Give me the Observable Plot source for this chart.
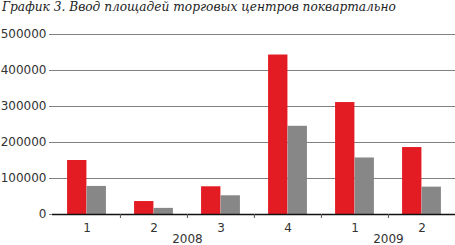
<!DOCTYPE html>
<html><head><meta charset="utf-8">
<script src="https://cdn.jsdelivr.net/npm/d3@7"></script>
<script src="https://cdn.jsdelivr.net/npm/@observablehq/plot@0.6"></script>
<style>
body{margin:0;background:#fff;}
#title{font-family:"DejaVu Serif";font-style:italic;font-size:12.2px;line-height:15px;height:22px;color:#222;padding-left:2px;white-space:nowrap;}
</style></head>
<body>
<div id="title">График 3. Ввод площадей торговых центров поквартально</div>
<div id="chart"></div>
<script>
const categories = ["2008-1","2008-2","2008-3","2008-4","2009-1","2009-2"];
const quarterLabels = ["1","2","3","4","1","2"];
const seriesRed = [150000, 36000, 77000, 443000, 311000, 186000];
const seriesGray = [78000, 17000, 52000, 245000, 157000, 76000];
const yTicks = [0,100000,200000,300000,400000,500000];
const years = [{label:"2008", at:"2008-3"}, {label:"2009", at:"2009-2"}];

const red = categories.map((c,i)=>({c, v:seriesRed[i]}));
const gray = categories.map((c,i)=>({c, v:seriesGray[i]}));
const labelOf = Object.fromEntries(categories.map((c,i)=>[c, quarterLabels[i]]));

const W = 455, H = 223, mL = 52;
const band = (W - mL) / categories.length;
const barW = 19.5, gap = (band - 2*barW)/2;

const chart = Plot.plot({
  width: W, height: H,
  marginLeft: mL, marginRight: 0, marginTop: 12, marginBottom: 31,
  style: {fontFamily: "DejaVu Sans", fontSize: "12px", color: "#333", background: "#fff"},
  x: {domain: categories, type: "band", paddingInner: 0, paddingOuter: 0, axis: null, label: null},
  y: {domain: [0, 500000], axis: null, label: null},
  marks: [
    Plot.gridY(yTicks, {stroke: "#808080", strokeOpacity: 1, strokeWidth: 1, insetLeft: -3}),
    Plot.axisY(yTicks, {tickSize: 0, tickPadding: 6, tickFormat: d => String(d), fontSize: 12, fill: "#333", label: null}),
    Plot.barY(red, {x: "c", y: "v", fill: "#e31b23", insetLeft: gap, insetRight: gap + barW}),
    Plot.barY(gray, {x: "c", y: "v", fill: "#878787", insetLeft: gap + barW, insetRight: gap}),
    Plot.ruleY([0], {stroke: "#111", strokeWidth: 1.5}),
    Plot.ruleX(categories.slice(1), {x: d => d, dx: -band/2, y1: 0, y2: 0, insetBottom: -4, stroke: "#555"}),
    Plot.axisX({tickSize: 0, tickPadding: 9, tickFormat: d => labelOf[d], fontSize: 12, fill: "#333", label: null}),
    Plot.text(years, {x: "at", dx: -band/2, text: "label", frameAnchor: "bottom", dy: 28, fontSize: 12, fill: "#333"})
  ]
});
document.getElementById("chart").append(chart);
</script>
</body></html>
